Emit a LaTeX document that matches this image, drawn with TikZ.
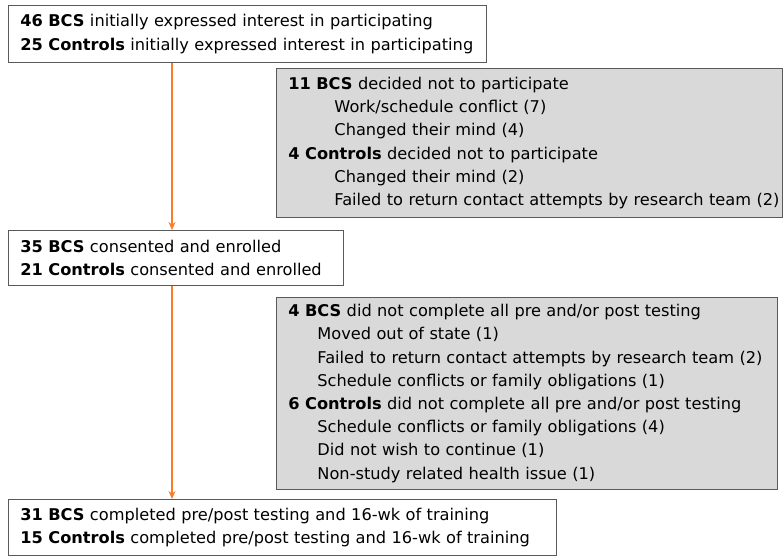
\documentclass[tikz,border=0pt]{standalone}
\usepackage{fontspec}
\setmainfont{DejaVu Sans}
\usetikzlibrary{arrows.meta,positioning}

\definecolor{flowline}{RGB}{250,125,40}
\definecolor{boxedge}{RGB}{90,90,90}
\definecolor{boxfill}{RGB}{217,217,217}

\begin{document}
\begin{tikzpicture}[x=1pt,y=1pt,>={Stealth[length=8pt,width=7pt]},
                    font=\fontsize{16.2}{23.2}\selectfont]

  \tikzstyle{stage}=[draw=boxedge,fill=white,line width=0.9pt,anchor=north west,
                     align=left,inner xsep=12pt,inner ysep=0pt]
  \tikzstyle{dropout}=[stage,fill=boxfill]
  \tikzstyle{flow}=[->,draw=flowline,line width=1.3pt]

  \useasboundingbox (0,0) rectangle (784,-556);

  \node[stage, minimum width=478, minimum height=57, text width=454]
       (interest) at (8,-5)
       {\textbf{46 BCS} initially expressed interest in participating\\
        \textbf{25 Controls} initially expressed interest in participating};

  \node[dropout, minimum width=506, minimum height=149, text width=482]
       (declined) at (276,-68)
       {\textbf{11 BCS} decided not to participate\\
        \hspace*{46pt}Work/schedule conflict (7)\\
        \hspace*{46pt}Changed their mind (4)\\
        \textbf{4 Controls} decided not to participate\\
        \hspace*{46pt}Changed their mind (2)\\
        \hspace*{46pt}\mbox{Failed to return contact attempts by research team (2)}};

  \node[stage, minimum width=335, minimum height=55, text width=311]
       (enrolled) at (8,-230)
       {\textbf{35 BCS} consented and enrolled\\
        \textbf{21 Controls} consented and enrolled};

  \node[dropout, minimum width=501, minimum height=192, text width=477]
       (incomplete) at (276,-297)
       {\textbf{4 BCS} did not complete all pre and/or post testing\\
        \hspace*{29pt}Moved out of state (1)\\
        \hspace*{29pt}Failed to return contact attempts by research team (2)\\
        \hspace*{29pt}Schedule conflicts or family obligations (1)\\
        \textbf{6 Controls} did not complete all pre and/or post testing\\
        \hspace*{29pt}Schedule conflicts or family obligations (4)\\
        \hspace*{29pt}Did not wish to continue (1)\\
        \hspace*{29pt}Non-study related health issue (1)};

  \node[stage, minimum width=548, minimum height=56, text width=524]
       (completed) at (8,-499)
       {\textbf{31 BCS} completed pre/post testing and 16-wk of training\\
        \textbf{15 Controls} completed pre/post testing and 16-wk of training};

  \coordinate (trunk) at (172,0);

  \draw[flow] (interest.south -| trunk) -- (enrolled.north -| trunk);
  \draw[flow] (enrolled.south -| trunk) -- (completed.north -| trunk);
\end{tikzpicture}
\end{document}
